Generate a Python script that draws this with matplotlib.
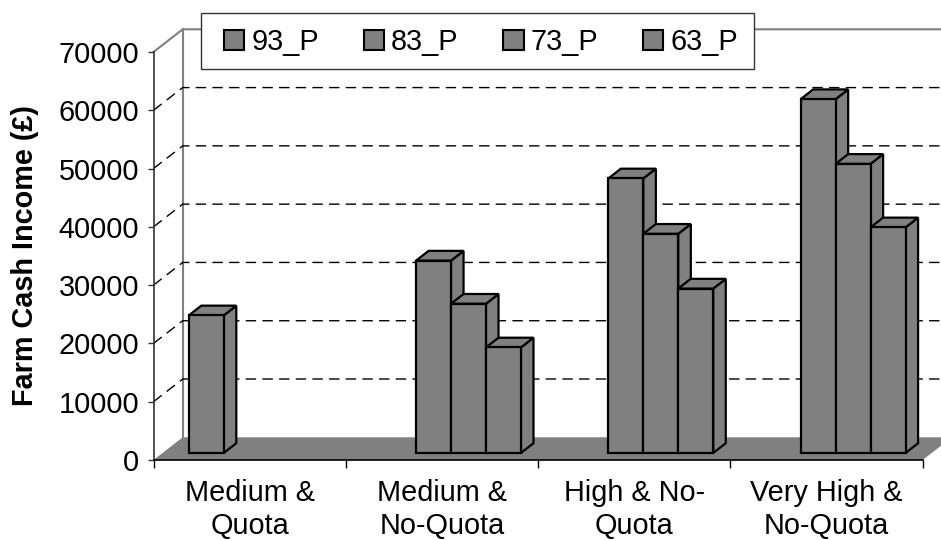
import matplotlib
matplotlib.use("Agg")
import matplotlib.pyplot as plt
from matplotlib.patches import Polygon, Rectangle, Patch
import numpy as np

plt.rcParams["font.family"] = ["Liberation Sans", "DejaVu Sans"]
plt.rcParams["lines.scale_dashes"] = False

# income per farm group, one list per price scenario (nan = no bar)
categories = ["Medium &\nQuota", "Medium &\nNo-Quota", "High & No-\nQuota", "Very High &\nNo-Quota"]
series_names = ["93_P", "83_P", "73_P", "63_P"]
p93 = [23600, np.nan, np.nan, np.nan]
p83 = [np.nan, 33000, 47100, 60700]
p73 = [np.nan, 25600, 37600, 49600]
p63 = [np.nan, 18100, 28200, 38700]
y_ticks = [0, 10000, 20000, 30000, 40000, 50000, 60000, 70000]

series = [p93, p83, p73, p63]
GRAY = "#808080"
FS = 20.8
W, H = 941, 540

fig = plt.figure(figsize=(W / 100, H / 100), dpi=100)

# front plane of the 3-D box, in pixels from the top-left corner
x_left, x_right, y_bot, y_top = 153.5, 922.7, 460, 52
ax = fig.add_axes([x_left / W, (H - y_bot) / H, (x_right - x_left) / W, (y_bot - y_top) / H])
ncat = len(categories)
ymax = y_ticks[-1]
ax.set_xlim(0, ncat)
ax.set_ylim(0, ymax)
ax.patch.set_visible(False)

# depth of the box converted to data units
DX = 29.2 * ncat / (x_right - x_left)
DY = 22.7 * ymax / (y_bot - y_top)

# back wall / side wall outline
ax.plot([0, DX, ncat + DX], [ymax, ymax + DY, ymax + DY], color=GRAY, lw=1.5, clip_on=False, zorder=1)
ax.plot([DX, DX], [DY, ymax + DY], color=GRAY, lw=1.5, clip_on=False, zorder=1)

# dashed gridlines across side wall and back wall
for v in y_ticks[1:-1]:
    ax.plot([0, DX, ncat + DX + 1], [v, v + DY, v + DY], color="black", lw=1.0,
            dashes=(7.5, 4.5), clip_on=False, zorder=1)

# floor
ax.add_patch(Polygon([(0, 0), (ncat, 0), (ncat + DX, DY), (DX, DY)], closed=True,
                     facecolor=GRAY, edgecolor="none", clip_on=False, zorder=2))

# bars: clustered, sitting part-way into the depth of the floor
nser = len(series)
w = 1 / (nser + 1.5)
start = (1 - nser * w) / 2
f0, f1 = 0.31, 0.74
ox, oy = f0 * DX, f0 * DY
bx, by = (f1 - f0) * DX, (f1 - f0) * DY
z = 3
for ci in range(ncat):
    for si, vals in enumerate(series):
        v = vals[ci]
        if np.isnan(v):
            continue
        x0 = ci + start + si * w + ox
        x1 = x0 + w
        faces = [
            [(x1, oy), (x1 + bx, oy + by), (x1 + bx, oy + by + v), (x1, oy + v)],
            [(x0, oy + v), (x1, oy + v), (x1 + bx, oy + v + by), (x0 + bx, oy + v + by)],
            [(x0, oy), (x1, oy), (x1, oy + v), (x0, oy + v)],
        ]
        for f in faces:
            ax.add_patch(Polygon(f, closed=True, facecolor=GRAY, edgecolor="black", lw=1.6,
                                 joinstyle="miter", clip_on=False, zorder=z))
            z += 0.01

# axes lines and ticks
for s in ("top", "right"):
    ax.spines[s].set_visible(False)
ax.spines["left"].set_color("#333333")
ax.spines["left"].set_linewidth(1.2)
ax.spines["bottom"].set_color("black")
ax.spines["bottom"].set_linewidth(1.2)

ax.set_yticks(y_ticks)
ax.set_yticklabels([str(t) for t in y_ticks])
ax.tick_params(axis="y", length=4.5, width=1, color="#333333", pad=6, labelsize=FS)

ax.set_xticks(range(ncat + 1))
ax.set_xticklabels([])
ax.tick_params(axis="x", which="major", length=5.8, width=1, color="black")
ax.set_xticks([c + 0.5 for c in range(ncat)], minor=True)
ax.set_xticklabels(categories, minor=True)
ax.tick_params(axis="x", which="minor", length=0, pad=14, labelsize=FS)
for lab in ax.get_xticklabels(minor=True):
    lab.set_linespacing(1.2)

fig.text(25 / W, 1 - 255 / H, "Farm Cash Income (£)", rotation=90, ha="center", va="center",
         fontsize=FS, fontweight="bold")

# legend
fig.patches.append(Rectangle((201 / W, 1 - 69 / H), (754 - 201) / W, 56 / H, transform=fig.transFigure,
                             facecolor="white", edgecolor="#333333", lw=1, zorder=1))
handles = [Patch(facecolor=GRAY, edgecolor="black", lw=1.5) for _ in series_names]
fig.legend(handles, series_names, loc="center", bbox_to_anchor=(481 / W, 1 - 42 / H), ncol=nser,
           frameon=False, fontsize=FS, handlelength=0.7, handleheight=0.7, handletextpad=0.25,
           columnspacing=1.55, borderpad=0, borderaxespad=0)

fig.savefig("out.png", dpi=100)
